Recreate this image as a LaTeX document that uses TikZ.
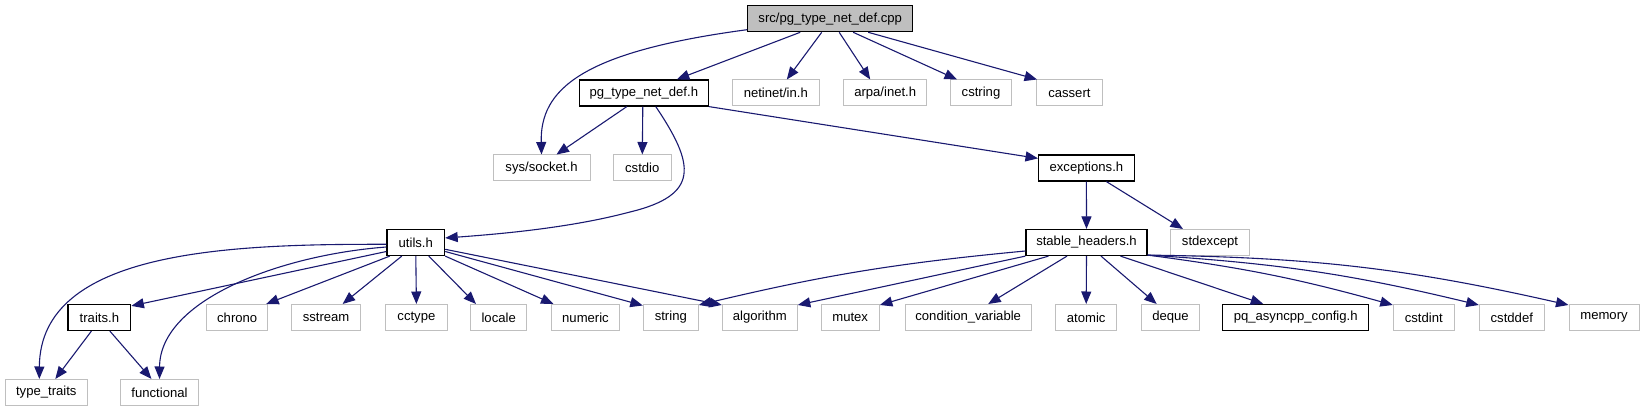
\documentclass[tikz,border=0pt]{standalone}
\usepackage{fontspec}
\setmainfont{Liberation Sans}
\usetikzlibrary{arrows.meta}
\definecolor{edgeblue}{HTML}{191970}
\definecolor{lightframe}{HTML}{BFBFBF}
\definecolor{rootfill}{HTML}{BFBFBF}
\begin{document}
\begin{tikzpicture}[x=1pt,y=-1pt,
  font=\fontsize{13.1}{15}\selectfont,
  docbox/.style={draw=black, line width=1.2pt, minimum height=26pt, inner sep=0pt, fill=white},
  sysbox/.style={draw=lightframe, line width=1pt, minimum height=26pt, inner sep=0pt, fill=white},
  rootbox/.style={docbox, fill=rootfill},
  dep/.style={draw=edgeblue, line width=1.1pt, -{Triangle[length=12.5pt,width=10pt]}}]
\useasboundingbox (0,0) rectangle (1644,411);
% rank 0
\node[rootbox, minimum width=165pt] (cpp) at (830.2,18.7) {src/pg\_type\_net\_def.cpp};
% rank 1
\node[docbox, minimum width=129pt] (pgh) at (643.8,93) {pg\_type\_net\_def.h};
\node[sysbox, minimum width=87pt] (netinet) at (775.8,93) {netinet/in.h};
\node[sysbox, minimum width=83pt] (arpa) at (885.2,93) {arpa/inet.h};
\node[sysbox, minimum width=61.5pt] (cstring) at (981,93) {cstring};
\node[sysbox, minimum width=65.7pt] (cassert) at (1069.4,93) {cassert};
% rank 2
\node[sysbox, minimum width=97pt] (syssocket) at (541.5,168) {sys/socket.h};
\node[sysbox, minimum width=57.5pt] (cstdio) at (642.3,168) {cstdio};
\node[docbox, minimum width=95.6pt] (exceptions) at (1086.4,168) {exceptions.h};
% rank 3
\node[docbox, minimum width=57.6pt] (utils) at (415.8,242.5) {utils.h};
\node[docbox, minimum width=121pt] (stable) at (1086.5,242.5) {stable\_headers.h};
\node[sysbox, minimum width=78.3pt] (stdexcept) at (1210,242.5) {stdexcept};
% rank 4
\node[docbox, minimum width=62.8pt] (traits) at (99.4,317.5) {traits.h};
\node[sysbox, minimum width=61.2pt] (chrono) at (237.2,317.5) {chrono};
\node[sysbox, minimum width=69.6pt] (sstream) at (326.1,317.5) {sstream};
\node[sysbox, minimum width=61.7pt] (cctype) at (416.4,317.5) {cctype};
\node[sysbox, minimum width=56pt] (locale) at (498.7,317.5) {locale};
\node[sysbox, minimum width=68.5pt] (numeric) at (585.5,317.5) {numeric};
\node[sysbox, minimum width=55pt] (string) at (670.8,317.5) {string};
\node[sysbox, minimum width=75pt] (algorithm) at (759.8,317.5) {algorithm};
\node[sysbox, minimum width=58.3pt] (mutex) at (850.2,317.5) {mutex};
\node[sysbox, minimum width=126pt] (condvar) at (968.2,317.5) {condition\_variable};
\node[sysbox, minimum width=61.5pt] (atomic) at (1086.2,317.5) {atomic};
\node[sysbox, minimum width=57.6pt] (deque) at (1170.5,317.5) {deque};
\node[docbox, minimum width=146pt] (pqconfig) at (1295.7,317.5) {pq\_asyncpp\_config.h};
\node[sysbox, minimum width=61pt] (cstdint) at (1423.8,317.5) {cstdint};
\node[sysbox, minimum width=65pt] (cstddef) at (1511.8,317.5) {cstddef};
\node[sysbox, minimum width=70pt] (memory) at (1604,317.5) {memory};
% rank 5
\node[sysbox, minimum width=82pt] (typetraits) at (46.3,392.5) {type\_traits};
\node[sysbox, minimum width=78.4pt] (functional) at (159.5,392.5) {functional};
% edges from cpp
\draw[dep] ([yshift=-11pt]cpp.west) .. controls (580,52) and (540,90) .. (syssocket.north);
\draw[dep] ([xshift=-30pt]cpp.south) -- ([xshift=33pt]pgh.north);
\draw[dep] ([xshift=-8.5pt]cpp.south) -- ([xshift=11pt]netinet.north);
\draw[dep] ([xshift=9pt]cpp.south) -- ([xshift=-15pt]arpa.north);
\draw[dep] ([xshift=23pt]cpp.south) -- ([xshift=-24pt]cstring.north);
\draw[dep] ([xshift=38pt]cpp.south) -- ([xshift=1pt]cassert.north west);
% edges from pg_type_net_def.h
\draw[dep] ([xshift=-17pt]pgh.south) -- ([xshift=15pt]syssocket.north);
\draw[dep] ([xshift=-1pt]pgh.south) -- (cstdio.north);
\draw[dep] ([xshift=12pt]pgh.south) .. controls (695,165) and (700,195) .. (630,212)
  .. controls (570,228) and (500,234) .. ([yshift=4.5pt]utils.east);
\draw[dep] (pgh.south east) -- ([yshift=-4pt]exceptions.north west);
% edges from exceptions.h
\draw[dep] (exceptions.south) -- (stable.north);
\draw[dep] ([xshift=20pt]exceptions.south) -- ([xshift=-27pt]stdexcept.north);
% edges from utils.h
\draw[dep] ([yshift=-1.8pt]utils.west) .. controls (230,244) and (40,250) .. ([xshift=-7pt]typetraits.north);
\draw[dep] ([yshift=-4.5pt]utils.west) .. controls (280,255) and (160,300) .. (functional.north);
\draw[dep] ([yshift=-9pt]utils.west) -- ([yshift=-2pt]traits.north east);
\draw[dep] ([xshift=-26pt]utils.south) -- ([xshift=29pt]chrono.north);
\draw[dep] ([xshift=-14pt]utils.south) -- ([xshift=16.5pt]sstream.north);
\draw[dep] (utils.south) -- (cctype.north);
\draw[dep] ([xshift=13pt]utils.south) -- ([xshift=-22.7pt]locale.north);
\draw[dep] (utils.south east) -- ([xshift=-32pt]numeric.north);
\draw[dep] ([yshift=-9pt]utils.east) -- ([yshift=-1.5pt]string.north west);
\draw[dep] ([yshift=-6.8pt]utils.east) -- ([yshift=-1pt]algorithm.north west);
% edges from traits.h
\draw[dep] ([xshift=-8pt]traits.south) -- ([xshift=9pt]typetraits.north);
\draw[dep] ([xshift=10.5pt]traits.south) -- ([xshift=-8pt]functional.north);
% edges from stable_headers.h
\draw[dep] ([yshift=-8.5pt]stable.west) to[bend right=4] ([yshift=-1pt]string.north east);
\draw[dep] (stable.south west) -- ([yshift=-1pt]algorithm.north east);
\draw[dep] ([xshift=-38pt]stable.south) -- ([yshift=-1pt]mutex.north east);
\draw[dep] ([xshift=-19.5pt]stable.south) -- ([xshift=20pt]condvar.north);
\draw[dep] (stable.south) -- (atomic.north);
\draw[dep] ([xshift=14.5pt]stable.south) -- ([xshift=-13.8pt]deque.north);
\draw[dep] ([xshift=34pt]stable.south) -- ([xshift=-32.5pt]pqconfig.north);
\draw[dep] ([yshift=1pt]stable.south east) to[bend left=4] ([yshift=-1pt]cstdint.north west);
\draw[dep] ([yshift=1pt]stable.south east) to[bend left=5] ([yshift=-1pt]cstddef.north west);
\draw[dep] ([yshift=1pt]stable.south east) to[bend left=6] ([yshift=-1pt]memory.north west);
\end{tikzpicture}
\end{document}
